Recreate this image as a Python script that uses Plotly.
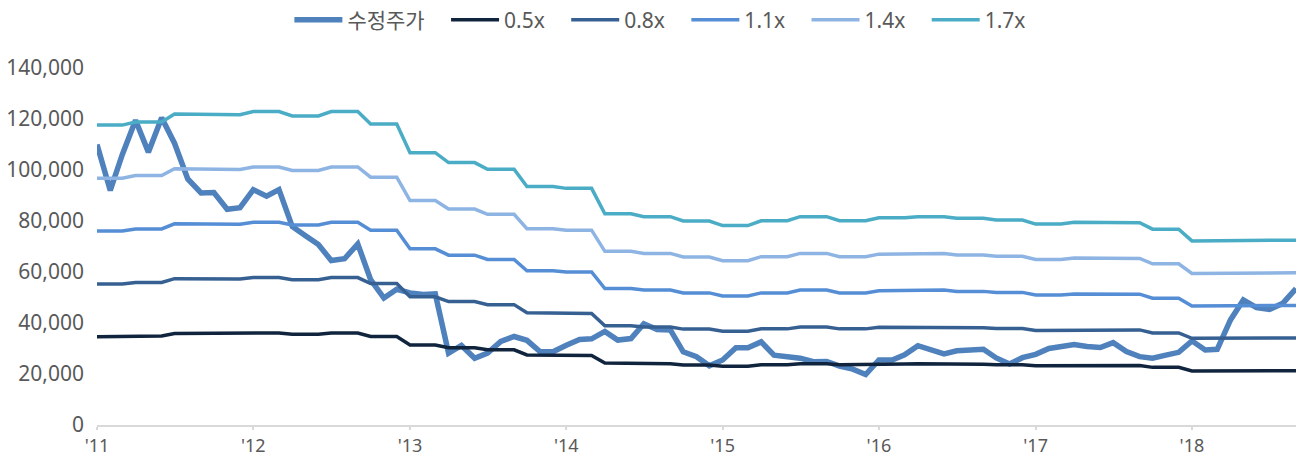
import pandas as pd
import plotly.graph_objects as go

months = pd.date_range("2011-01-01", periods=93, freq="MS")

price = [110000, 92000, 106000, 119500, 107000, 120500, 110500, 96500, 91000, 91200,
         84600, 85200, 92300, 89700, 92300, 77800, 74300, 70800, 64500, 65200,
         71000, 57000, 49800, 53200, 51800, 51200, 51400, 28200, 31200, 26200,
         28200, 32800, 34700, 33200, 28700, 28700, 31300, 33500, 33800, 36700,
         33300, 33900, 39700, 37400, 37300, 28700, 26800, 23200, 25500, 30300,
         30300, 32600, 27400, 27000, 26200, 24800, 24900, 23100, 21900, 19800,
         25500, 25500, 27500, 31100, 29700, 27900, 29100, 29200, 29700, 26300,
         23900, 26400, 27700, 30000, 31000, 31600, 30800, 30400, 32300, 28800,
         26800, 26200, 27400, 28500, 33000, 29400, 29700, 41200, 49000, 46000,
         45300, 47700, 53500]

band_05 = [34600, 34600, 34600, 34900, 34900, 34900, 35900, 35900, 35900, 35800, 35800, 35800,
           36100, 36100, 36100, 35600, 35600, 35600, 36100, 36100, 36100, 34700, 34700, 34700,
           31400, 31400, 31400, 30300, 30300, 30300, 29500, 29500, 29500, 27500, 27500, 27500,
           27300, 27300, 27300, 24300, 24300, 24300, 24000, 24000, 24000, 23500, 23500, 23500,
           23000, 23000, 23000, 23600, 23600, 23600, 24000, 24000, 24000, 23600, 23600, 23600,
           23900, 23900, 23900, 24000, 24000, 24000, 23800, 23800, 23800, 23600, 23600, 23600,
           23200, 23200, 23200, 23400, 23400, 23400, 23300, 23300, 23300, 22600, 22600, 22600,
           21200, 21200, 21200, 21300, 21300, 21300, 21300, 21300, 21300]

band_08 = [55300, 55300, 55300, 55900, 55900, 55900, 57400, 57400, 57400, 57300, 57300, 57300,
           57800, 57800, 57800, 57000, 57000, 57000, 57800, 57800, 57800, 55500, 55500, 55500,
           50300, 50300, 50300, 48400, 48400, 48400, 47200, 47200, 47200, 44000, 44000, 44000,
           43700, 43700, 43700, 38900, 38900, 38900, 38400, 38400, 38400, 37600, 37600, 37600,
           36800, 36800, 36800, 37700, 37700, 37700, 38400, 38400, 38400, 37700, 37700, 37700,
           38300, 38300, 38300, 38400, 38400, 38400, 38100, 38100, 38100, 37800, 37800, 37800,
           37100, 37100, 37100, 37400, 37400, 37400, 37300, 37300, 37300, 36100, 36100, 36100,
           34000, 34000, 34000, 34100, 34100, 34100, 34100, 34100, 34100]

band_11 = [76100, 76100, 76100, 76900, 76900, 76900, 78900, 78900, 78900, 78700, 78700, 78700,
           79500, 79500, 79500, 78400, 78400, 78400, 79500, 79500, 79500, 76400, 76400, 76400,
           69100, 69100, 69100, 66600, 66600, 66600, 64900, 64900, 64900, 60500, 60500, 60500,
           60000, 60000, 60000, 53500, 53500, 53500, 52900, 52900, 52900, 51800, 51800, 51800,
           50600, 50600, 50600, 51800, 51800, 51800, 52900, 52900, 52900, 51800, 51800, 51800,
           52600, 52600, 52600, 52900, 52900, 52900, 52400, 52400, 52400, 52000, 52000, 52000,
           51000, 51000, 51000, 51400, 51400, 51400, 51300, 51300, 51300, 49700, 49700, 49700,
           46700, 46700, 46700, 46900, 46900, 46900, 46900, 46900, 46900]

band_14 = [96800, 96800, 96800, 97800, 97800, 97800, 100500, 100500, 100500, 100200, 100200, 100200,
           101200, 101200, 101200, 99800, 99800, 99800, 101200, 101200, 101200, 97200, 97200, 97200,
           88000, 88000, 88000, 84700, 84700, 84700, 82600, 82600, 82600, 77000, 77000, 77000,
           76400, 76400, 76400, 68100, 68100, 68100, 67300, 67300, 67300, 65900, 65900, 65900,
           64400, 64400, 64400, 66000, 66000, 66000, 67300, 67300, 67300, 66000, 66000, 66000,
           67000, 67000, 67000, 67300, 67300, 67300, 66700, 66700, 66700, 66200, 66200, 66200,
           64900, 64900, 64900, 65500, 65500, 65500, 65300, 65300, 65300, 63200, 63200, 63200,
           59400, 59400, 59400, 59700, 59700, 59700, 59700, 59700, 59700]

band_17 = [117600, 117600, 117600, 118800, 118800, 118800, 122000, 122000, 122000, 121700, 121700, 121700,
           122900, 122900, 122900, 121200, 121200, 121200, 122900, 122900, 122900, 118000, 118000, 118000,
           106800, 106800, 106800, 102900, 102900, 102900, 100300, 100300, 100300, 93500, 93500, 93500,
           92800, 92800, 92800, 82800, 82800, 82800, 81700, 81700, 81700, 80000, 80000, 80000,
           78200, 78200, 78200, 80100, 80100, 80100, 81700, 81700, 81700, 80100, 80100, 80100,
           81300, 81300, 81300, 81700, 81700, 81700, 81100, 81100, 81100, 80400, 80400, 80400,
           78800, 78800, 78800, 79500, 79500, 79500, 79300, 79300, 79300, 76800, 76800, 76800,
           72200, 72200, 72200, 72500, 72500, 72500, 72500, 72500, 72500]

tick_dates = ["2011-01-01", "2012-01-01", "2013-01-01", "2014-01-01",
              "2015-01-01", "2016-01-01", "2017-01-01", "2018-01-01"]
tick_text = ["'11", "'12", "'13", "'14", "'15", "'16", "'17", "'18"]

series_names = ["수정주가", "0.5x", "0.8x", "1.1x", "1.4x", "1.7x"]
series_values = [price, band_05, band_08, band_11, band_14, band_17]
series_colors = ["#4F81BD", "#10243E", "#376092", "#558ED5", "#8EB4E3", "#4BACC6"]
series_widths = [5.5, 3.5, 3.5, 3.5, 3.5, 3.5]

pad = "\u00a0\u00a0\u00a0"  # spacing after legend text

fig = go.Figure()
for name, vals, color, w in zip(series_names, series_values, series_colors, series_widths):
    fig.add_trace(go.Scatter(x=months, y=vals, mode="lines", name=name + pad,
                             line=dict(color=color, width=w)))

font_family = "Noto Sans, Noto Sans CJK KR, sans-serif"
fig.update_layout(
    width=1308, height=457,
    margin=dict(l=97, r=12, t=68, b=32),
    paper_bgcolor="white", plot_bgcolor="white",
    font=dict(family=font_family, size=21, color="#595959"),
    showlegend=True,
    legend=dict(orientation="h", xref="container", yref="container",
                x=0.511, xanchor="center", y=0.956, yanchor="middle",
                font=dict(size=21, color="#595959"), itemwidth=48,
                bgcolor="rgba(0,0,0,0)"),
    xaxis=dict(type="date", range=[months[0], months[-1]],
               tickvals=tick_dates, ticktext=tick_text, automargin=False,
               showgrid=False, zeroline=False,
               showline=True, linecolor="#d9d9d9", linewidth=2,
               ticks="outside", tickcolor="#d9d9d9", ticklen=3, tickwidth=1.5,
               tickfont=dict(size=18, color="#595959")),
    yaxis=dict(range=[0, 140000], tickvals=[0, 20000, 40000, 60000, 80000, 100000, 120000, 140000],
               tickformat=",", showgrid=False, zeroline=False, showline=False,
               ticks="", ticklabelstandoff=12, automargin=False,
               tickfont=dict(size=21, color="#595959")),
)

fig.write_html("out.html")
